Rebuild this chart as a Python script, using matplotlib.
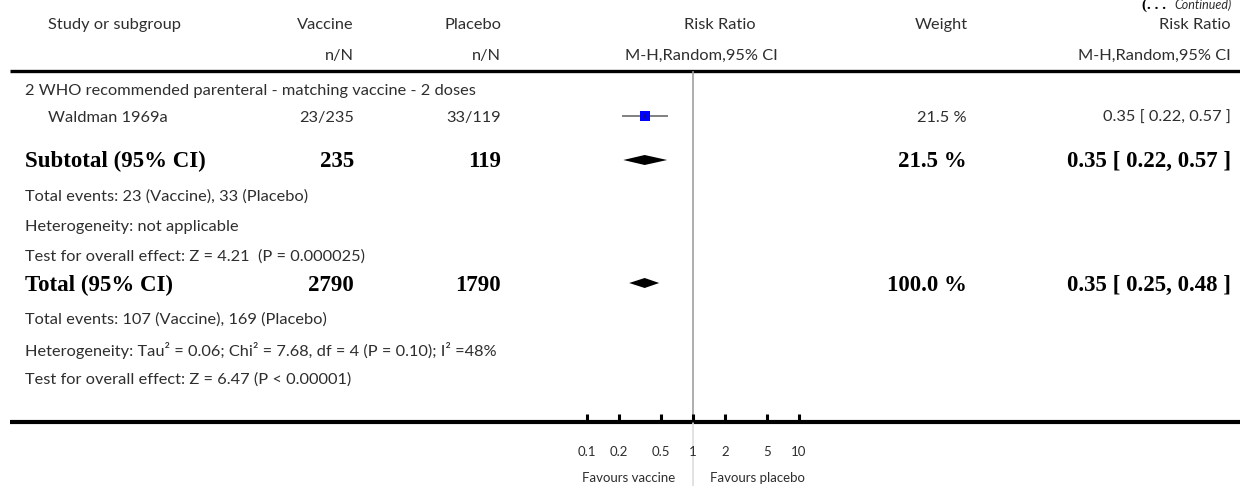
import matplotlib
matplotlib.use("Agg")
import matplotlib.pyplot as plt
from matplotlib.ticker import FixedLocator, NullLocator

# ---------------- data ----------------
section_title = "2 WHO recommended parenteral - matching vaccine - 2 doses"
study_names = ["Waldman 1969a"]
vac_events = [23]
vac_total = [235]
pla_events = [33]
pla_total = [119]
study_rr = [0.35]
study_lo = [0.22]
study_hi = [0.57]
study_weight = [21.5]

subtotal_vac_N = 235
subtotal_pla_N = 119
subtotal_rr, subtotal_lo, subtotal_hi = 0.35, 0.22, 0.57
subtotal_weight = 21.5
subtotal_notes = ["Total events: 23 (Vaccine), 33 (Placebo)",
                  "Heterogeneity: not applicable",
                  "Test for overall effect: Z = 4.21  (P = 0.000025)"]

total_vac_N = 2790
total_pla_N = 1790
total_rr, total_lo, total_hi = 0.35, 0.25, 0.48
total_weight = 100.0
total_notes = ["Total events: 107 (Vaccine), 169 (Placebo)",
               "Heterogeneity: Tau\u00b2 = 0.06; Chi\u00b2 = 7.68, df = 4 (P = 0.10); I\u00b2 =48%",
               "Test for overall effect: Z = 6.47 (P < 0.00001)"]

tick_values = [0.1, 0.2, 0.5, 1, 2, 5, 10]
tick_labels = ["0.1", "0.2", "0.5", "1", "2", "5", "10"]
favours_left = "Favours vaccine"
favours_right = "Favours placebo"

# ---------------- style ----------------
W, H = 1240, 486
SANS = ["Lato", "DejaVu Sans"]
SERIF = ["Liberation Serif", "DejaVu Serif"]
TXT = "#2e2e2e"
fs = 11.8
bfs = 16.5

fig = plt.figure(figsize=(W / 100, H / 100), dpi=100)
ax0 = fig.add_axes([0, 0, 1, 1])
ax0.set_xlim(0, W)
ax0.set_ylim(H, 0)
ax0.axis("off")


def t(x, y, s, ha="left", bold=False, size=None, **kw):
    if bold:
        ax0.text(x, y, s, ha=ha, va="center", fontfamily=SERIF, fontweight="bold",
                 fontsize=size or bfs, color="black", **kw)
    else:
        ax0.text(x, y, s, ha=ha, va="center", fontfamily=SANS, fontweight="normal",
                 fontsize=size or fs, color=TXT, **kw)


# continued marker (at very top)
ax0.text(1166, 5, "(. . .", ha="right", va="center", fontfamily=SERIF,
         fontweight="bold", fontsize=11, color="black")
ax0.text(1232, 5, "Continued)", ha="right", va="center", fontfamily=SANS,
         style="italic", fontsize=9, color=TXT)

# headers
y_h1, y_h2 = 25, 56
t(48, y_h1, "Study or subgroup")
t(354, y_h1, "Vaccine", ha="right")
t(501, y_h1, "Placebo", ha="right")
t(720, y_h1, "Risk Ratio", ha="center")
t(968, y_h1, "Weight", ha="right")
t(1231, y_h1, "Risk Ratio", ha="right")
t(354, y_h2, "n/N", ha="right")
t(501, y_h2, "n/N", ha="right")
t(701, y_h2, "M-H,Random,95% CI", ha="center")
t(1231, y_h2, "M-H,Random,95% CI", ha="right")
ax0.plot([10, W], [71, 71], color="black", lw=2.4, solid_capstyle="butt")

# rows
y_sec = 91
y_study = [118]
y_sub = 161
y_sub_notes = [197, 227, 257]
y_tot = 285
y_tot_notes = [320, 350, 380]
y_axis = 422

t(25, y_sec, section_title)
for i, name in enumerate(study_names):
    y = y_study[i]
    t(48, y, name)
    t(354, y, f"{vac_events[i]}/{vac_total[i]}", ha="right")
    t(501, y, f"{pla_events[i]}/{pla_total[i]}", ha="right")
    t(967, y, f"{study_weight[i]:.1f} %", ha="right")
    t(1231, y, f"{study_rr[i]:.2f} [ {study_lo[i]:.2f}, {study_hi[i]:.2f} ]", ha="right")

t(25, y_sub, "Subtotal (95% CI)", bold=True)
t(354, y_sub, f"{subtotal_vac_N}", ha="right", bold=True)
t(501, y_sub, f"{subtotal_pla_N}", ha="right", bold=True)
t(967, y_sub, f"{subtotal_weight:.1f} %", ha="right", bold=True)
t(1231, y_sub, f"{subtotal_rr:.2f} [ {subtotal_lo:.2f}, {subtotal_hi:.2f} ]", ha="right", bold=True)
for y, s in zip(y_sub_notes, subtotal_notes):
    t(25, y, s)

t(25, y_tot, "Total (95% CI)", bold=True)
t(354, y_tot, f"{total_vac_N}", ha="right", bold=True)
t(501, y_tot, f"{total_pla_N}", ha="right", bold=True)
t(967, y_tot, f"{total_weight:.1f} %", ha="right", bold=True)
t(1231, y_tot, f"{total_rr:.2f} [ {total_lo:.2f}, {total_hi:.2f} ]", ha="right", bold=True)
for y, s in zip(y_tot_notes, total_notes):
    t(25, y, s)

# bottom axis line
ax0.plot([10, W], [y_axis, y_axis], color="black", lw=3.0, solid_capstyle="butt", zorder=5)

# ---------------- forest axes ----------------
# log axis: 0.01 .. 100 mapped to pixels 481 .. 905 (1 at 693)
x_left, x_right = 481, 905
axf = fig.add_axes([x_left / W, (H - y_axis) / H, (x_right - x_left) / W, y_axis / H])
axf.set_xscale("log")
axf.set_xlim(0.01, 100)
axf.set_ylim(y_axis, 0)
axf.patch.set_alpha(0)
for sp in axf.spines.values():
    sp.set_visible(False)
axf.yaxis.set_major_locator(NullLocator())
axf.xaxis.set_major_locator(FixedLocator(tick_values))
axf.xaxis.set_minor_locator(NullLocator())
axf.set_xticklabels(tick_labels, fontfamily=SANS, fontweight="normal", fontsize=9.5, color=TXT)
axf.tick_params(axis="x", direction="in", length=6, width=2.2, color="black", pad=17)

# null line
axf.plot([1, 1], [72, y_axis], color="#a0a0a0", lw=1.2, zorder=1)
axf.plot([1, 1], [y_axis, H], color="#dddddd", lw=1.2, zorder=1, clip_on=False)

# study CI + square
for i in range(len(study_names)):
    y = y_study[i] - 2
    axf.plot([study_lo[i], study_hi[i]], [y, y], color="#808080", lw=1.4, zorder=2)
    axf.plot([study_rr[i]], [y], marker="s", markersize=6.8, color="#0000ff",
             markeredgewidth=0, zorder=3)
    axf.plot([study_rr[i]], [y], marker="|", markersize=3, color="#202020",
             markeredgewidth=0.8, zorder=4)


def diamond(rr, lo, hi, y, h=10):
    axf.fill([lo, rr, hi, rr], [y, y - h / 2, y, y + h / 2], color="black", lw=0, zorder=3)


diamond(subtotal_rr, subtotal_lo, subtotal_hi, y_sub - 1)
diamond(total_rr, total_lo, total_hi, y_tot - 2)

# favours labels
ax0.text(675, 478, favours_left, ha="right", va="center", fontfamily=SANS,
         fontweight="normal", fontsize=9.5, color=TXT)
ax0.text(710, 478, favours_right, ha="left", va="center", fontfamily=SANS,
         fontweight="normal", fontsize=9.5, color=TXT)

fig.savefig("out.png", dpi=100)
